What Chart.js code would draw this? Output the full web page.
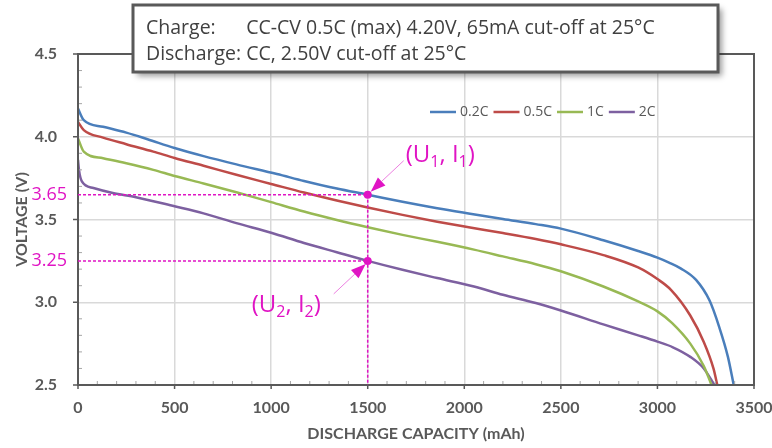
<!DOCTYPE html>
<html>
<head>
<meta charset="utf-8">
<script src="https://cdn.jsdelivr.net/npm/chart.js@4.4.0/dist/chart.umd.min.js"></script>
<style>
  html, body { margin: 0; padding: 0; background: #fff; }
</style>
</head>
<body>
<canvas id="dischargeChart" width="772" height="448"></canvas>
<script>
// discharge curves (capacity in mAh, voltage in V)
var cap02  = [0, 30, 130, 250, 360, 500, 650, 820, 1030, 1170, 1340, 1500, 1680, 1860, 2030, 2200, 2370, 2500, 2720, 2900, 3000, 3060, 3120, 3200, 3270, 3320, 3365, 3395]
var volt02 = [4.17, 4.10, 4.06, 4.025, 3.985, 3.932, 3.883, 3.833, 3.775, 3.733, 3.687, 3.65, 3.607, 3.568, 3.535, 3.503, 3.472, 3.445, 3.375, 3.31, 3.27, 3.24, 3.205, 3.135, 3.01, 2.85, 2.67, 2.50]

var cap05  = [0, 30, 130, 250, 390, 500, 650, 820, 1000, 1170, 1340, 1500, 1680, 1860, 2030, 2200, 2370, 2500, 2720, 2900, 3000, 3070, 3170, 3240, 3290, 3310]
var volt05 = [4.09, 4.04, 3.995, 3.955, 3.91, 3.872, 3.825, 3.77, 3.715, 3.663, 3.615, 3.573, 3.528, 3.487, 3.452, 3.418, 3.382, 3.35, 3.285, 3.21, 3.14, 3.075, 2.92, 2.76, 2.60, 2.50]

var cap1   = [0, 30, 130, 250, 390, 500, 650, 820, 1000, 1170, 1340, 1500, 1680, 1860, 2050, 2200, 2370, 2500, 2720, 2900, 3000, 3075, 3170, 3240, 3280]
var volt1  = [3.99, 3.91, 3.87, 3.84, 3.80, 3.763, 3.718, 3.665, 3.605, 3.548, 3.497, 3.453, 3.407, 3.365, 3.318, 3.277, 3.23, 3.187, 3.095, 3.005, 2.945, 2.875, 2.75, 2.615, 2.50]

var cap2   = [0, 5, 20, 80, 180, 300, 500, 650, 820, 1000, 1170, 1340, 1500, 1680, 1860, 2050, 2200, 2370, 2500, 2720, 2900, 3000, 3080, 3170, 3240, 3295]
var volt2  = [3.86, 3.80, 3.73, 3.69, 3.66, 3.635, 3.58, 3.537, 3.478, 3.42, 3.358, 3.302, 3.25, 3.196, 3.146, 3.095, 3.045, 2.995, 2.95, 2.866, 2.80, 2.762, 2.728, 2.67, 2.60, 2.50]

var seriesLabels = ['0.2C', '0.5C', '1C', '2C']
var seriesColors = ['#4a7ebb', '#be4b48', '#98b954', '#7d60a0']

var capTicks  = [0, 500, 1000, 1500, 2000, 2500, 3000, 3500]
var voltTicks = [2.5, 3.0, 3.5, 4.0, 4.5]

// marked operating points
var markCap   = 1500
var markVolt  = [3.65, 3.25]
var markText  = [['(U', '1', ', I', '1', ')'], ['(U', '2', ', I', '2', ')']]

var boxLines = [
  ['Charge:', 'CC-CV 0.5C (max) 4.20V, 65mA cut-off at 25°C'],
  ['Discharge:', 'CC, 2.50V cut-off at 25°C']
]

var magenta = '#e014c4'
var axisGrey = '#595959'

function toPoints(caps, volts) {
  return caps.map(function (c, i) { return { x: c, y: volts[i] } })
}

function line(ctx, x1, y1, x2, y2) {
  ctx.beginPath()
  ctx.moveTo(x1, y1)
  ctx.lineTo(x2, y2)
  ctx.stroke()
}

function arrow(ctx, tx, ty, fx, fy) {
  // thin shaft from (fx,fy) to the tip, filled head at the tip
  var ang = Math.atan2(ty - fy, tx - fx)
  var len = 15, half = 5.5
  ctx.lineWidth = 1
  line(ctx, fx, fy, tx - Math.cos(ang) * len, ty - Math.sin(ang) * len)
  ctx.beginPath()
  ctx.moveTo(tx, ty)
  ctx.lineTo(tx - Math.cos(ang) * len - Math.sin(ang) * half, ty - Math.sin(ang) * len + Math.cos(ang) * half)
  ctx.lineTo(tx - Math.cos(ang) * len + Math.sin(ang) * half, ty - Math.sin(ang) * len - Math.cos(ang) * half)
  ctx.closePath()
  ctx.fill()
}

function subText(ctx, x, y, parts) {
  // even parts normal, odd parts subscript
  parts.forEach(function (p, i) {
    if (i % 2 === 0) {
      ctx.font = '24px "Open Sans", sans-serif'
      ctx.fillText(p, x, y)
    } else {
      ctx.font = '16px "Open Sans", sans-serif'
      ctx.fillText(p, x, y + 5)
    }
    x += ctx.measureText(p).width
  })
}

var extras = {
  id: 'extras',
  afterDatasetsDraw: function (chart) {
    var ctx = chart.ctx
    var a = chart.chartArea
    var xs = chart.scales.x
    var ys = chart.scales.y
    var i

    ctx.save()

    // minor ticks, inside
    ctx.strokeStyle = '#a6a6a6'
    ctx.lineWidth = 1
    for (i = 1; i < 20; i++) {
      if (i % 5 === 0) continue
      var vy = ys.getPixelForValue(2.5 + i * 0.1)
      line(ctx, a.left, vy, a.left + 4, vy)
    }
    for (i = 1; i < 35; i++) {
      if (i % 5 === 0) continue
      var cx = xs.getPixelForValue(i * 100)
      line(ctx, cx, a.bottom, cx, a.bottom - 4)
    }

    // plot frame and major ticks
    ctx.strokeStyle = axisGrey
    ctx.lineWidth = 2
    ctx.strokeRect(a.left, a.top, a.right - a.left, a.bottom - a.top)
    ctx.lineWidth = 1.5
    voltTicks.forEach(function (v) {
      var y = ys.getPixelForValue(v)
      line(ctx, a.left - 5, y, a.left, y)
    })
    capTicks.forEach(function (c) {
      var x = xs.getPixelForValue(c)
      line(ctx, x, a.bottom, x, a.bottom + 4)
    })

    // dotted guides to the marked points
    var px = xs.getPixelForValue(markCap)
    var py = markVolt.map(function (v) { return ys.getPixelForValue(v) })
    ctx.strokeStyle = magenta
    ctx.fillStyle = magenta
    ctx.lineWidth = 1.5
    ctx.setLineDash([3, 2])
    py.forEach(function (y) { line(ctx, a.left, y, px, y) })
    line(ctx, px, py[0], px, a.bottom)
    ctx.setLineDash([])

    py.forEach(function (y) {
      ctx.beginPath()
      ctx.arc(px, y, 4, 0, Math.PI * 2)
      ctx.fill()
    })

    // magenta values on the voltage axis
    ctx.font = '18px "Open Sans", sans-serif'
    ctx.textAlign = 'right'
    ctx.textBaseline = 'middle'
    markVolt.forEach(function (v, k) {
      ctx.fillText(v.toFixed(2), a.left - 11, py[k])
    })

    // arrows and point names
    ctx.strokeStyle = '#ec7fe0'
    arrow(ctx, px + 3, py[0] - 3, px + 36, py[0] - 34)
    arrow(ctx, px - 2, py[1] + 3, px - 34, py[1] + 33)

    ctx.textAlign = 'left'
    ctx.textBaseline = 'alphabetic'
    ctx.fillStyle = magenta
    subText(ctx, px + 38, py[0] - 33, markText[0])
    subText(ctx, px - 116, py[1] + 51, markText[1])

    // legend, inside the plot
    ctx.font = '14px "Open Sans", sans-serif'
    ctx.textBaseline = 'middle'
    var lx = a.left + 352
    var ly = 112
    chart.data.datasets.forEach(function (ds) {
      ctx.strokeStyle = ds.borderColor
      ctx.lineWidth = 2.5
      line(ctx, lx, ly, lx + 26, ly)
      ctx.fillStyle = axisGrey
      ctx.fillText(ds.label, lx + 30, ly)
      lx += 30 + ctx.measureText(ds.label).width + 5
    })

    ctx.restore()
  },
  afterDraw: function (chart) {
    var ctx = chart.ctx
    var bx = 133, by = 5, bw = 585, bh = 67

    ctx.save()
    ctx.shadowColor = 'rgba(0,0,0,0.4)'
    ctx.shadowBlur = 6
    ctx.shadowOffsetX = 4
    ctx.shadowOffsetY = 4
    ctx.fillStyle = '#fff'
    ctx.fillRect(bx, by, bw, bh)
    ctx.shadowColor = 'transparent'
    ctx.strokeStyle = axisGrey
    ctx.lineWidth = 3
    ctx.strokeRect(bx, by, bw, bh)

    ctx.fillStyle = '#404040'
    ctx.font = '19.5px "Open Sans", sans-serif'
    ctx.textAlign = 'left'
    ctx.textBaseline = 'alphabetic'
    var col2 = bx + 13 + ctx.measureText(boxLines[1][0] + ' ').width
    boxLines.forEach(function (row, k) {
      ctx.fillText(row[0], bx + 13, by + 29 + k * 26)
      ctx.fillText(row[1], col2, by + 29 + k * 26)
    })
    ctx.restore()
  }
}

var chartCanvas = document.getElementById('dischargeChart').getContext('2d')

var chartData = {
  datasets: [
    { data: toPoints(cap02, volt02) },
    { data: toPoints(cap05, volt05) },
    { data: toPoints(cap1, volt1) },
    { data: toPoints(cap2, volt2) }
  ].map(function (ds, i) {
    ds.label = seriesLabels[i]
    ds.borderColor = seriesColors[i]
    ds.backgroundColor = seriesColors[i]
    ds.borderWidth = 2.5
    ds.pointRadius = 0
    ds.fill = false
    ds.cubicInterpolationMode = 'monotone'
    return ds
  })
}

var tickFont = { family: 'Lato', size: 16, weight: 'bold' }

var chartOptions = {
  responsive: false,
  animation: false,
  devicePixelRatio: 1,
  layout: { padding: { top: 54, right: 18, left: 0, bottom: 0 } },
  plugins: {
    legend: { display: false },
    tooltip: { enabled: false }
  },
  scales: {
    x: {
      type: 'linear',
      min: 0,
      max: 3500,
      afterFit: function (s) {
        s.height = 63
        s.paddingLeft = 0
        s.paddingRight = 0
      },
      ticks: {
        stepSize: 500,
        color: axisGrey,
        font: tickFont,
        padding: 13,
        maxRotation: 0,
        callback: function (v) { return String(v) }
      },
      grid: {
        drawTicks: false,
        lineWidth: 1.5,
        color: function (c) { return (c.tick.value === 0 || c.tick.value === 3500) ? 'transparent' : '#d9d9d9' }
      },
      border: { display: false },
      title: {
        display: true,
        text: 'DISCHARGE CAPACITY (mAh)',
        color: axisGrey,
        font: { family: 'Lato', size: 16, weight: 'bold' },
        padding: { top: 0, bottom: 5 }
      }
    },
    y: {
      type: 'linear',
      min: 2.5,
      max: 4.5,
      afterFit: function (s) { s.width = 78 },
      ticks: {
        stepSize: 0.5,
        color: axisGrey,
        font: tickFont,
        padding: 21,
        callback: function (v) { return v.toFixed(1) }
      },
      grid: {
        drawTicks: false,
        lineWidth: 1.5,
        color: function (c) { return (c.tick.value === 2.5 || c.tick.value === 4.5) ? 'transparent' : '#d9d9d9' }
      },
      border: { display: false },
      title: {
        display: true,
        text: 'VOLTAGE (V)',
        color: axisGrey,
        font: { family: 'Lato', size: 16, weight: 'bold' },
        padding: { top: 12, bottom: 0 }
      }
    }
  }
}

var dischargeChart = new Chart(chartCanvas, {
  type: 'line',
  data: chartData,
  options: chartOptions,
  plugins: [extras]
})
</script>
</body>
</html>
